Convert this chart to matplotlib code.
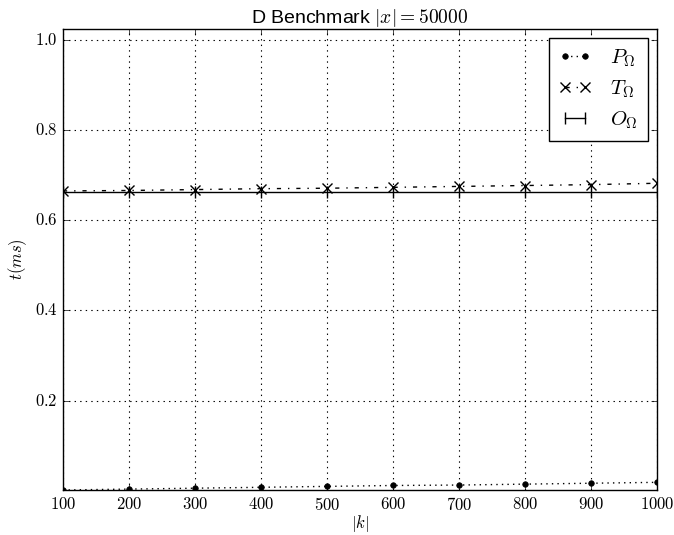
import matplotlib
matplotlib.use('Agg')
import matplotlib.pyplot as plt

# Données
k = [100, 200, 300, 400, 500, 600, 700, 800, 900, 1000]
p_omega = [0.002, 0.004, 0.006, 0.008, 0.010, 0.012, 0.013, 0.015, 0.017, 0.019]
t_omega = [0.665, 0.666, 0.668, 0.670, 0.671, 0.673, 0.675, 0.677, 0.679, 0.682]
o_omega = [0.662] * len(k)

plt.style.use('classic')
plt.rcParams['mathtext.fontset'] = 'cm'
plt.rcParams['font.family'] = ['Liberation Sans', 'DejaVu Sans']

fig = plt.figure(figsize=(6.74, 5.35), dpi=100)
ax = fig.add_axes([63 / 674, 1 - 490 / 535, 594 / 674, 461 / 535])

ax.plot(k, p_omega, 'k:', marker='.', markersize=8, label=r'$P_\Omega$')
ax.plot(k, t_omega, 'k-.', marker='x', markersize=7, mew=1, label=r'$T_\Omega$')
ax.plot(k, o_omega, 'k-', marker='|', markersize=8, mew=1, label=r'$O_\Omega$')

ax.set_xlim(100, 1000)
ax.set_ylim(0.002, 1.024)
ax.set_xticks(k)
ax.set_xticklabels(['$%d$' % v for v in k], fontsize=12)
yt = [0.2, 0.4, 0.6, 0.8, 1.0]
ax.set_yticks(yt)
ax.set_yticklabels(['$%.1f$' % v for v in yt], fontsize=12)
ax.tick_params(axis='x', pad=4)

ax.grid(True, color='k', linestyle=':', linewidth=0.8)
ax.set_xlabel(r'$|k|$', fontsize=12, labelpad=0)
ax.set_ylabel(r'$t(ms)$', fontsize=12, labelpad=4)
ax.set_title(r'D Benchmark $|x| = 50000$', fontsize=14, pad=4)

leg = ax.legend(loc='upper right', numpoints=2, fontsize=15, fancybox=False,
                handlelength=1.6, handletextpad=0.9, labelspacing=0.45,
                borderpad=0.45, borderaxespad=0.45)
leg.get_frame().set_edgecolor('k')

fig.savefig('out.png', dpi=100)
